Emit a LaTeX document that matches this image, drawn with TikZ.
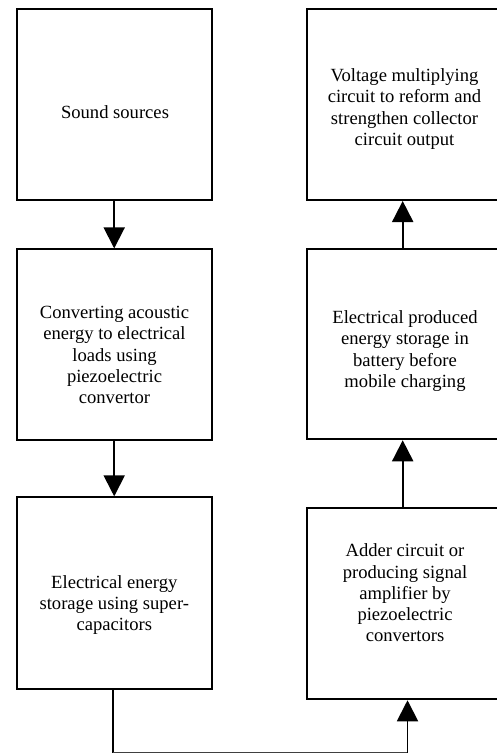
\documentclass[tikz,border=0pt]{standalone}
\usepackage{fontspec}
\setmainfont{Liberation Serif}
\usetikzlibrary{arrows.meta}
\begin{document}
\begin{tikzpicture}[x=1pt,y=-1pt,
  blockbox/.style={draw=black, line width=1.9pt, minimum width=195pt, inner sep=0pt},
  blocktext/.style={align=center, inner sep=0pt, font=\fontsize{18.6}{21.3}\selectfont},
  conn/.style={line width=1.9pt, -{Triangle[length=21pt,width=21pt]}},
  plain/.style={line width=1.9pt}]
\useasboundingbox (0,0) rectangle (497,754);
% left column
\node[blockbox, minimum height=190.7pt] (s1) at (114.2,104.7) {};
\node[blockbox, minimum height=190.7pt] (s2) at (114.2,344.7) {};
\node[blockbox, minimum height=192pt] (s3) at (114.2,593.3) {};
% right column
\node[blockbox, minimum height=190.7pt] (r1) at (404.2,104.7) {};
\node[blockbox, minimum height=190pt] (r2) at (404.2,344.3) {};
\node[blockbox, minimum height=191.6pt] (r3) at (404.2,603.5) {};
% texts
\node[blocktext] (ts1) at (115,112) {Sound sources};
\node[blocktext] (ts2) at (114.5,355) {Converting acoustic\\energy to electrical\\loads using\\piezoelectric\\convertor};
\node[blocktext] (ts3) at (114.3,605) {Electrical energy\\storage using super-\\capacitors};
\node[blocktext] (tr1) at (404.5,109) {Voltage multiplying\\circuit to reform and\\strengthen collector\\circuit output};
\node[blocktext] (tr2) at (405,351) {Electrical produced\\energy storage in\\battery before\\mobile charging};
\node[blocktext] (tr3) at (405,593) {Adder circuit or\\producing signal\\amplifier by\\piezoelectric\\convertors};
% connectors
\draw[conn] (s1.south) -- (s2.north);
\draw[conn] (s2.south) -- (s3.north);
\draw[conn] ([xshift=-1.5pt]r2.north) -- ([xshift=-1.5pt]r1.south);
\draw[conn] ([xshift=-1.5pt]r3.north) -- ([xshift=-1.5pt]r2.south);
\coordinate (c1) at (113,752.7);
\coordinate (c2) at (407.5,752.7);
\draw[plain] ([xshift=-1.2pt]s3.south) -- (c1);
\draw[line width=1pt, black!75] (c1) -- (c2);
\draw[conn] (c2) -- (c2 |- r3.south);
\end{tikzpicture}
\end{document}
